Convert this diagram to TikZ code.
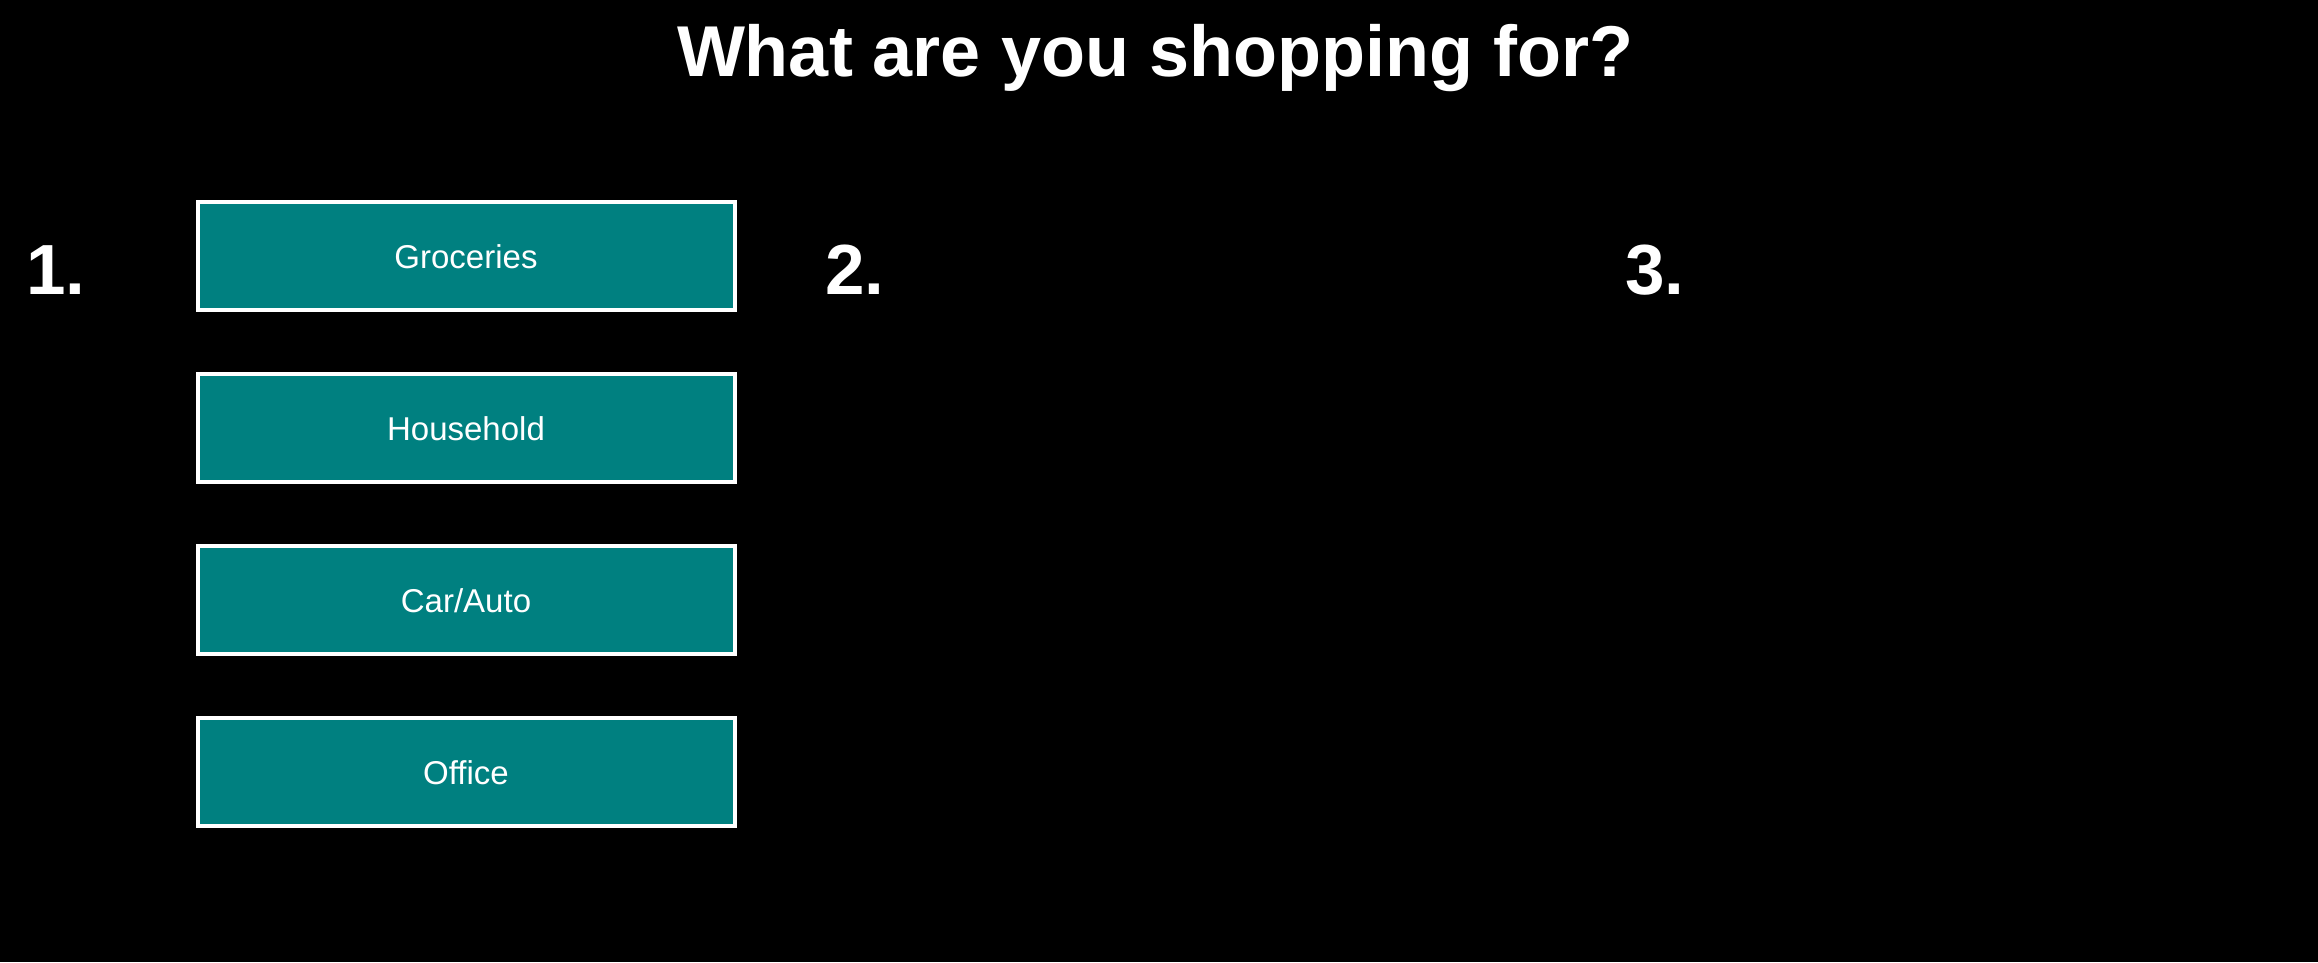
\documentclass[tikz,border=0pt]{standalone}
\usepackage{fontspec}
\setmainfont{Liberation Sans}
\usetikzlibrary{positioning}
\definecolor{ShopTeal}{HTML}{008080}

\begin{document}
\begin{tikzpicture}[
  x=1pt, y=-1pt,
  node distance=60pt,
  choice/.style={draw=white, line width=4pt, fill=ShopTeal, text=white,
    minimum width=537pt, minimum height=108pt, inner sep=0pt,
    font=\fontsize{33}{40}\selectfont, text height=24pt, text depth=0pt},
  stepnum/.style={text=white, inner sep=0pt, anchor=base,
    font=\bfseries\fontsize{71}{80}\selectfont}
]
\fill[black] (0,0) rectangle (2318,962);
\useasboundingbox (0,0) rectangle (2318,962);

\node[text=white, inner sep=0pt, anchor=base, font=\bfseries\fontsize{72}{84}\selectfont]
  (title) at (1155,76) {What are you shopping for?};

\node[choice] (groceries) at (466,256) {Groceries};
\node[choice, below=of groceries] (household) {Household};
\node[choice, below=of household] (car) {Car/Auto};
\node[choice, below=of car] (office) {Office};

\node[stepnum] (one) at (56,294) {1.};
\node[stepnum] (two) at (855,294) {2.};
\node[stepnum] (three) at (1655,294) {3.};
\end{tikzpicture}
\end{document}
